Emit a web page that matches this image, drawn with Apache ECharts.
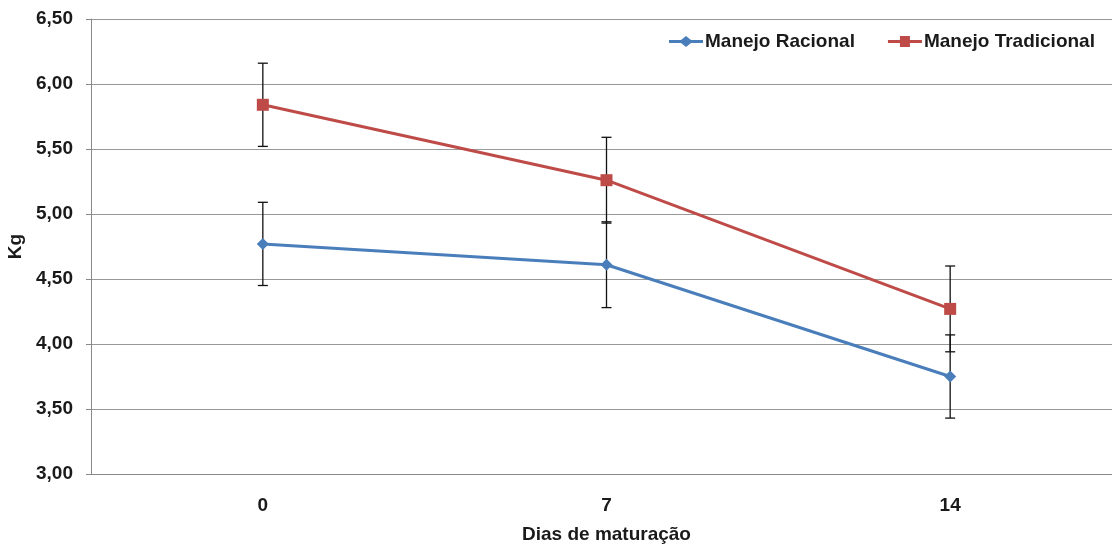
<!DOCTYPE html>
<html><head><meta charset="utf-8">
<script src="https://cdn.jsdelivr.net/npm/echarts@6/dist/echarts.min.js"></script>
<style>html,body{margin:0;padding:0;background:#fff}#c{width:1112px;height:544px}</style>
</head><body><div id="c"></div>
<script>
const categories = ['0', '7', '14'];
const racional = [4.77, 4.61, 3.75];
const racionalErr = [0.32, 0.33, 0.32];
const tradicional = [5.84, 5.26, 4.27];
const tradicionalErr = [0.32, 0.33, 0.33];
const yTicks = {min: 3.0, max: 6.5, interval: 0.5};

const chart = echarts.init(document.getElementById('c'));
const font = 'Liberation Sans, Arial, sans-serif';
const txt = {fontFamily: font, fontSize: 19, fontWeight: 'bold', color: '#1a1a1a'};

function errSeries(vals, errs) {
  return {
    type: 'custom',
    silent: true,
    z: 1,
    data: vals.map((v, i) => [i, v - errs[i], v + errs[i]]),
    renderItem: function (params, api) {
      const lo = api.coord([api.value(0), api.value(1)]);
      const hi = api.coord([api.value(0), api.value(2)]);
      const w = 5;
      const st = {stroke: '#111', lineWidth: 1.3};
      return {type: 'group', children: [
        {type: 'line', shape: {x1: lo[0], y1: lo[1], x2: hi[0], y2: hi[1]}, style: st},
        {type: 'line', shape: {x1: lo[0] - w, y1: lo[1], x2: lo[0] + w, y2: lo[1]}, style: st},
        {type: 'line', shape: {x1: hi[0] - w, y1: hi[1], x2: hi[0] + w, y2: hi[1]}, style: st}
      ]};
    }
  };
}

chart.setOption({
  animation: false,
  textStyle: {fontFamily: font},
  grid: {left: 91, top: 19, width: 1031, height: 455, outerBoundsMode: 'none', containLabel: false},
  legend: {
    top: 27, left: 664, itemGap: 33, itemWidth: 34, itemHeight: 11,
    textStyle: Object.assign({}, txt, {padding: [0, 0, 0, -3]}),
    data: [
      {name: 'Manejo Racional', icon: 'path://M0,4 L12,4 L17,0 L22,4 L34,4 L34,7 L22,7 L17,11 L12,7 L0,7 Z'},
      {name: 'Manejo Tradicional', icon: 'path://M0,4 L12,4 L12,0 L22,0 L22,4 L34,4 L34,7 L22,7 L22,11 L12,11 L12,7 L0,7 Z'}
    ]
  },
  xAxis: {
    type: 'category', data: categories, boundaryGap: true,
    name: 'Dias de maturação', nameLocation: 'middle', nameGap: 51,
    nameTextStyle: txt,
    axisLine: {lineStyle: {color: '#888'}},
    axisTick: {length: 6, lineStyle: {color: '#888'}},
    axisLabel: Object.assign({}, txt, {margin: 22})
  },
  yAxis: {
    type: 'value', min: yTicks.min, max: yTicks.max, interval: yTicks.interval,
    name: 'Kg', nameLocation: 'middle', nameGap: 66, nameRotate: 90,
    nameTextStyle: txt,
    axisLine: {show: true, lineStyle: {color: '#888'}},
    axisTick: {show: true, length: 5, lineStyle: {color: '#888'}},
    axisLabel: Object.assign({}, txt, {margin: 18,
      formatter: v => v.toFixed(2).replace('.', ',')}),
    splitLine: {lineStyle: {color: '#999', width: 1}}
  },
  series: [
    errSeries(racional, racionalErr),
    errSeries(tradicional, tradicionalErr),
    {
      name: 'Manejo Racional', type: 'line', data: racional, z: 3,
      symbol: 'diamond', symbolSize: 12,
      lineStyle: {color: '#4A7EBB', width: 3},
      itemStyle: {color: '#4A7EBB'}
    },
    {
      name: 'Manejo Tradicional', type: 'line', data: tradicional, z: 3,
      symbol: 'rect', symbolSize: 12,
      lineStyle: {color: '#BE4B48', width: 3},
      itemStyle: {color: '#BE4B48'}
    }
  ]
});
</script></body></html>
